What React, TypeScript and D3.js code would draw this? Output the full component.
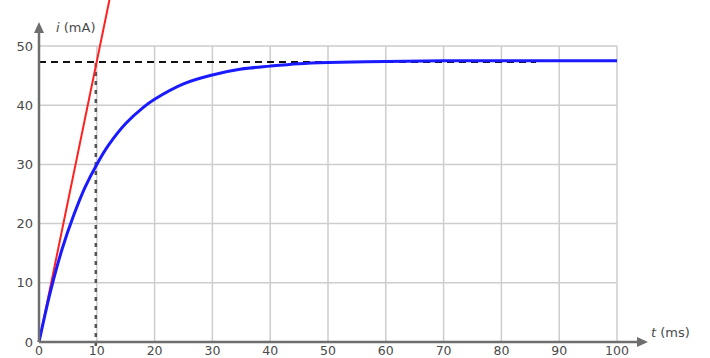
import React from "react";
import * as d3 from "d3";

// Charging current of an RL circuit, i(t) in mA against t in ms
const timeMs = [0, 2, 4, 6, 8, 10, 12, 15, 18, 20, 25, 30, 35, 40, 45, 50, 60, 70, 80, 90, 100];
const currentMa = [0, 8.6, 15.7, 21.4, 26.2, 30.0, 33.2, 36.9, 39.6, 41.0, 43.6, 45.1, 46.1, 46.6, 47.0, 47.2, 47.4, 47.5, 47.5, 47.5, 47.5];

// Tangent at the origin
const tangentT = [0, 12.4];
const tangentI = [0, 58.8];

// Time constant and final current (dashed guides)
const tauMs = 10;
const finalMa = 47.3;

const xTicks = [0, 10, 20, 30, 40, 50, 60, 70, 80, 90, 100];
const yTicks = [0, 10, 20, 30, 40, 50];

const W = 710;
const H = 358;

export default function App() {
  const x = d3.scaleLinear().domain([0, 100]).range([39, 617]);
  const y = d3.scaleLinear().domain([0, 50]).range([342, 46]);

  const curve = d3
    .line<number>()
    .x((_, i) => x(timeMs[i]))
    .y((d) => y(d))
    .curve(d3.curveCatmullRom.alpha(0.5))(currentMa) as string;

  const tangent = d3
    .line<number>()
    .x((_, i) => x(tangentT[i]))
    .y((d) => y(d))(tangentI) as string;

  const font = "'DejaVu Sans', Verdana, sans-serif";
  const axisColor = "#6e6e6e";
  const gridColor = "#cdcdcd";
  const textColor = "#4a4a4a";

  return (
    <svg
      width={W}
      height={H}
      style={{ position: "absolute", left: 0, top: 0, background: "#fff" }}
    >
      {/* grid */}
      <g>
        {xTicks.slice(1).map((t) => (
          <line
            key={"gx" + t}
            x1={x(t)}
            x2={x(t)}
            y1={y(0)}
            y2={y(50)}
            stroke={gridColor}
            strokeWidth={1.5}
          />
        ))}
        {yTicks.slice(1).map((v) => (
          <line
            key={"gy" + v}
            x1={x(0)}
            x2={x(100)}
            y1={y(v)}
            y2={y(v)}
            stroke={gridColor}
            strokeWidth={1.5}
          />
        ))}
      </g>

      {/* guides for tau and final value */}
      <line
        x1={x(0)}
        x2={x(86)}
        y1={y(finalMa)}
        y2={y(finalMa)}
        stroke="#111"
        strokeWidth={2}
        strokeDasharray="7 5"
      />
      <line
        x1={x(tauMs) - 1}
        x2={x(tauMs) - 1}
        y1={y(0) + 4}
        y2={y(finalMa)}
        stroke="#555"
        strokeWidth={2.5}
        strokeDasharray="4 5"
      />

      {/* tangent */}
      <path d={tangent} fill="none" stroke="#ff2020" strokeWidth={2} />

      {/* current */}
      <path d={curve} fill="none" stroke="#1a1aff" strokeWidth={3} />

      {/* axes */}
      <line x1={x(0)} x2={x(0)} y1={y(0)} y2={30} stroke={axisColor} strokeWidth={2.5} />
      <path d={`M ${x(0) - 5} 33 L ${x(0)} 22 L ${x(0) + 5} 33 Z`} fill={axisColor} />
      <line x1={x(0)} x2={640} y1={y(0)} y2={y(0)} stroke={axisColor} strokeWidth={2.5} />
      <path d={`M 637 ${y(0) - 5} L 648 ${y(0)} L 637 ${y(0) + 5} Z`} fill={axisColor} />

      {/* tick labels */}
      {yTicks.map((v) => (
        <text
          key={"ly" + v}
          x={33}
          y={y(v)}
          dy="0.35em"
          textAnchor="end"
          fontFamily={font}
          fontSize={13}
          fill={textColor}
        >
          {v}
        </text>
      ))}
      {xTicks.map((t) => (
        <text
          key={"lx" + t}
          x={x(t)}
          y={355}
          textAnchor="middle"
          fontFamily={font}
          fontSize={12.5}
          fill={textColor}
        >
          {t}
        </text>
      ))}

      {/* axis titles */}
      <text x={56} y={32} fontFamily={font} fontSize={13} fill={textColor}>
        <tspan fontStyle="italic">i</tspan> (mA)
      </text>
      <text x={651} y={337} fontFamily={font} fontSize={13} fill={textColor}>
        <tspan fontStyle="italic">t</tspan> (ms)
      </text>
    </svg>
  );
}
